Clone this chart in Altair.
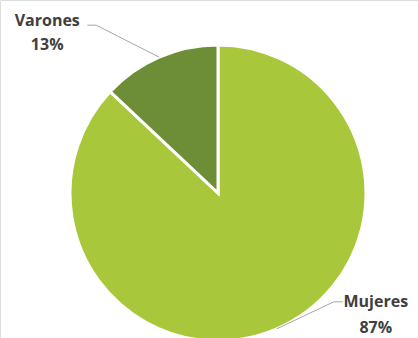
import altair as alt
import pandas as pd

categories = ["Mujeres", "Varones"]
percentages = [87, 13]
colors = ["#a9c73a", "#6d8e37"]

df = pd.DataFrame({"cat": categories, "pct": percentages})

CX, CY, R = 218, 193, 148

base = (
    alt.Chart(df)
    .transform_window(idx="row_number()")
    .transform_joinaggregate(total="sum(pct)")
    .transform_window(cum="sum(pct)", sort=[alt.SortField("idx")], frame=[None, 0])
    .transform_calculate(
        mid="(datum.cum - datum.pct/2)/datum.total*2*PI",
    )
    .transform_calculate(
        s="sin(datum.mid) < 0 ? -1 : 1",
        ax=f"{CX} + {R}*sin(datum.mid)",
        ay=f"{CY} - {R}*cos(datum.mid)",
    )
    .transform_calculate(
        ex="datum.ax + (datum.s < 0 ? -63 : 57)",
        ey="datum.ay + (datum.s < 0 ? -32 : -27)",
    )
    .transform_calculate(
        lx="datum.ex + datum.s*9",
        tx="datum.ex + (datum.s < 0 ? -49 : 42)",
        ny="datum.ey + (datum.s < 0 ? -4 : 0)",
        label="datum.pct + '%'",
    )
    .transform_calculate(py="datum.ny + (datum.s < 0 ? 24 : 26)")
)

pie = base.mark_arc(stroke="white", strokeWidth=3, outerRadius=R).encode(
    theta=alt.Theta("pct:Q", stack=True),
    color=alt.Color("cat:N", scale=alt.Scale(domain=categories, range=colors), legend=None),
    order=alt.Order("idx:Q"),
    x=alt.value(CX),
    y=alt.value(CY),
)

lead1 = base.mark_rule(color="#a6a6a6", strokeWidth=1).encode(
    x=alt.X("ax:Q", scale=None), y=alt.Y("ay:Q", scale=None),
    x2="ex:Q", y2="ey:Q",
)
lead2 = base.mark_rule(color="#a6a6a6", strokeWidth=1).encode(
    x=alt.X("ex:Q", scale=None), y=alt.Y("ey:Q", scale=None),
    x2="lx:Q", y2="ey:Q",
)

txt_style = dict(font="Open Sans", fontSize=16, fontWeight="bold", color="#404040",
                 align="center", baseline="middle")
names = base.mark_text(**txt_style).encode(
    x=alt.X("tx:Q", scale=None), y=alt.Y("ny:Q", scale=None), text="cat:N"
)
pcts = base.mark_text(**txt_style).encode(
    x=alt.X("tx:Q", scale=None), y=alt.Y("py:Q", scale=None), text="label:N"
)

chart = (
    alt.layer(pie, lead1, lead2, names, pcts)
    .properties(width=418, height=338, padding=0, autosize=alt.AutoSizeParams(type="none"))
    .configure_view(stroke=None)
    .configure(background="white")
)

chart.save("out.html", embed_options={"renderer": "svg", "actions": False})
